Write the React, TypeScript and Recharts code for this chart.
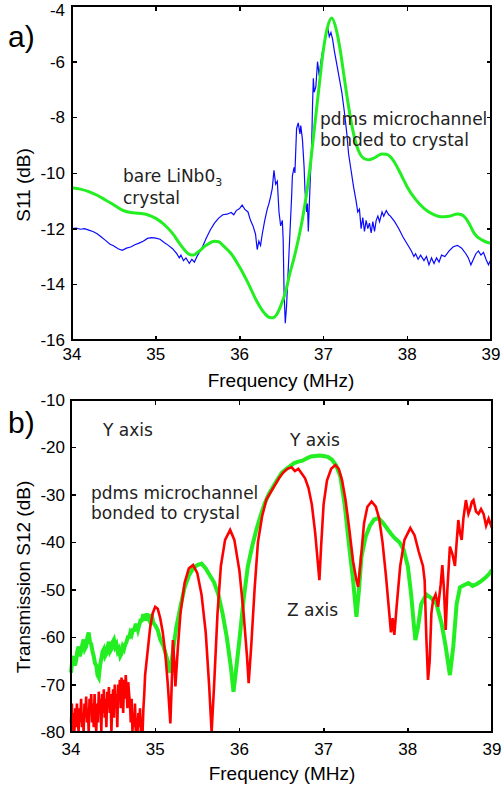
import React from "react";
import { LineChart, Line, XAxis, YAxis } from "recharts";

const AXIS_FONT = "'Liberation Sans', Arial, Helvetica, sans-serif";
const NOTE_FONT = "'DejaVu Sans', sans-serif";

const freqTicks = [34, 35, 36, 37, 38, 39];
const s11Ticks = [-16, -14, -12, -10, -8, -6, -4];
const s12Ticks = [-80, -70, -60, -50, -40, -30, -20, -10];

// panel a: bare crystal (blue), pdms bonded (green)
const bareS11: [number, number][] = [
  [34.0, -12.0], [34.05, -11.98], [34.1, -12.02], [34.15, -12.0], [34.2, -12.05], [34.25, -12.1],
  [34.3, -12.18], [34.35, -12.3], [34.4, -12.42], [34.45, -12.55], [34.5, -12.62], [34.55, -12.72],
  [34.6, -12.78], [34.65, -12.7], [34.7, -12.66], [34.75, -12.58], [34.8, -12.52], [34.85, -12.45],
  [34.9, -12.35], [34.95, -12.32], [35.0, -12.34], [35.05, -12.38], [35.1, -12.5], [35.15, -12.6],
  [35.2, -12.72], [35.25, -12.9], [35.28, -13.05], [35.3, -12.95], [35.33, -13.15], [35.36, -13.05],
  [35.4, -13.25], [35.43, -13.1], [35.46, -13.2], [35.5, -12.95], [35.55, -12.7], [35.6, -12.35],
  [35.65, -12.05], [35.7, -11.8], [35.75, -11.62], [35.8, -11.5], [35.85, -11.48], [35.9, -11.42],
  [35.93, -11.5], [35.96, -11.35], [36.0, -11.28], [36.03, -11.15], [36.06, -11.3], [36.1, -11.4],
  [36.13, -11.7], [36.16, -11.9], [36.19, -12.2], [36.21, -12.75], [36.23, -12.45], [36.25, -12.6],
  [36.27, -12.2], [36.3, -11.7], [36.33, -11.3], [36.35, -11.1], [36.37, -10.85], [36.39, -10.55],
  [36.41, -9.9], [36.43, -10.4], [36.45, -10.3], [36.47, -11.4], [36.49, -11.9], [36.51, -11.7],
  [36.52, -12.4], [36.53, -14.2], [36.545, -15.4], [36.56, -14.8], [36.58, -13.5], [36.6, -12.2],
  [36.62, -10.9], [36.63, -10.1], [36.65, -9.8], [36.66, -10.0], [36.67, -9.2], [36.68, -8.4],
  [36.7, -8.2], [36.72, -8.6], [36.73, -8.3], [36.75, -8.8], [36.77, -9.8], [36.78, -10.6],
  [36.8, -11.4], [36.81, -11.1], [36.82, -12.1], [36.84, -10.5], [36.86, -9.0], [36.87, -7.6],
  [36.88, -6.6], [36.89, -7.1], [36.91, -6.9], [36.93, -6.0], [36.95, -6.5], [36.97, -6.0],
  [36.99, -5.6], [37.01, -5.4], [37.03, -5.0], [37.05, -4.75], [37.07, -5.1], [37.09, -4.95],
  [37.11, -5.2], [37.13, -5.6], [37.16, -6.1], [37.19, -6.6], [37.22, -7.1], [37.25, -7.8],
  [37.28, -8.6], [37.3, -9.3], [37.33, -9.9], [37.36, -10.5], [37.39, -11.0], [37.41, -11.4],
  [37.43, -11.3], [37.45, -12.0], [37.47, -11.6], [37.49, -12.1], [37.51, -11.7], [37.53, -12.0],
  [37.55, -11.8], [37.57, -12.15], [37.59, -11.75], [37.61, -12.1], [37.63, -11.7], [37.65, -11.55],
  [37.67, -11.75], [37.7, -11.4], [37.72, -11.55], [37.75, -11.35], [37.78, -11.5], [37.8, -11.55],
  [37.85, -11.75], [37.9, -12.0], [37.95, -12.3], [38.0, -12.55], [38.05, -12.8], [38.08, -13.0],
  [38.1, -12.9], [38.13, -13.1], [38.16, -12.95], [38.2, -13.15], [38.23, -13.0], [38.26, -13.3],
  [38.29, -13.05], [38.32, -13.25], [38.35, -13.05], [38.38, -13.2], [38.41, -12.95], [38.45, -13.0],
  [38.5, -12.8], [38.55, -12.65], [38.6, -12.6], [38.65, -12.7], [38.7, -12.9], [38.73, -13.05],
  [38.76, -13.3], [38.79, -13.1], [38.82, -12.9], [38.85, -12.8], [38.88, -12.95], [38.91, -12.85],
  [38.94, -13.1], [38.97, -13.3], [39.0, -13.1],
];

const pdmsS11: [number, number][] = [
  [34.0, -10.53], [34.1, -10.58], [34.2, -10.67], [34.3, -10.8], [34.4, -10.97], [34.5, -11.15],
  [34.6, -11.33], [34.7, -11.42], [34.8, -11.45], [34.9, -11.5], [35.0, -11.63], [35.1, -11.85],
  [35.2, -12.17], [35.3, -12.6], [35.4, -12.92], [35.45, -12.95], [35.5, -12.85], [35.6, -12.6],
  [35.7, -12.45], [35.75, -12.47], [35.8, -12.6], [35.9, -12.9], [36.0, -13.38], [36.1, -13.95],
  [36.2, -14.58], [36.3, -15.05], [36.35, -15.18], [36.4, -15.2], [36.45, -15.05], [36.5, -14.7],
  [36.55, -14.25], [36.6, -13.6], [36.65, -13.05], [36.7, -12.4], [36.75, -11.65], [36.8, -10.73],
  [36.85, -9.55], [36.9, -8.2], [36.95, -6.85], [37.0, -5.57], [37.05, -4.75], [37.1, -4.43],
  [37.15, -4.8], [37.2, -5.57], [37.25, -6.6], [37.3, -7.6], [37.35, -8.45], [37.4, -9.05],
  [37.45, -9.38], [37.5, -9.5], [37.55, -9.52], [37.6, -9.47], [37.65, -9.38], [37.7, -9.32],
  [37.75, -9.33], [37.8, -9.42], [37.85, -9.62], [37.9, -9.9], [37.95, -10.2], [38.0, -10.5],
  [38.1, -10.95], [38.2, -11.27], [38.3, -11.47], [38.4, -11.57], [38.5, -11.55], [38.6, -11.47],
  [38.65, -11.5], [38.7, -11.63], [38.75, -11.88], [38.8, -12.17], [38.9, -12.42], [39.0, -12.53],
];

// panel b: Y axis (green), Z axis (red); red floor is where the plot clips at -80
const yAxisS12: [number, number][] = [
  [34.0, -67.5], [34.015, -65.0], [34.03, -64.0], [34.045, -66.0], [34.06, -65.0], [34.075, -63.0],
  [34.09, -62.0], [34.105, -64.0], [34.12, -63.0], [34.135, -61.5], [34.15, -60.5], [34.165, -62.5],
  [34.18, -62.0], [34.195, -60.0], [34.21, -59.0], [34.225, -61.0], [34.24, -61.5], [34.255, -63.0],
  [34.27, -64.0], [34.285, -65.5], [34.3, -66.0], [34.315, -68.0], [34.33, -68.5], [34.345, -66.0],
  [34.36, -64.5], [34.375, -63.0], [34.39, -62.5], [34.405, -64.0], [34.42, -63.5], [34.435, -62.0],
  [34.45, -61.0], [34.465, -63.0], [34.48, -62.5], [34.495, -61.0], [34.51, -60.5], [34.525, -62.0],
  [34.54, -61.5], [34.555, -63.0], [34.57, -62.5], [34.585, -64.0], [34.6, -63.5], [34.615, -62.0],
  [34.63, -62.5], [34.645, -61.5], [34.66, -61.0], [34.675, -60.0], [34.69, -60.0], [34.705, -59.0],
  [34.72, -59.5], [34.735, -58.5], [34.75, -58.5], [34.765, -57.5], [34.78, -57.5], [34.795, -58.5],
  [34.81, -57.5], [34.825, -56.5], [34.84, -56.5], [34.855, -55.5], [34.87, -55.5], [34.885, -56.5],
  [34.9, -55.0], [34.915, -56.0], [34.93, -56.5], [34.945, -55.5], [34.96, -55.5], [34.98, -57.0],
  [35.0, -57.5], [35.03, -58.5], [35.06, -60.5],
  [35.1, -62.0], [35.14, -64.5], [35.18, -67.5], [35.21, -63.0], [35.25, -58.0], [35.3, -53.5],
  [35.35, -49.5], [35.4, -47.0], [35.45, -45.5], [35.5, -44.8], [35.55, -44.5], [35.6, -45.5],
  [35.65, -47.0], [35.7, -48.5], [35.75, -51.0], [35.8, -55.0], [35.85, -60.0], [35.9, -66.5],
  [35.93, -71.5], [35.96, -67.0], [36.0, -60.6], [36.05, -52.0], [36.1, -45.1], [36.15, -41.0],
  [36.2, -37.4], [36.25, -34.5], [36.3, -31.8], [36.35, -29.8], [36.4, -28.3], [36.45, -26.8],
  [36.5, -25.4], [36.55, -24.6], [36.6, -24.0], [36.65, -23.3], [36.7, -23.0], [36.75, -22.8],
  [36.8, -22.3], [36.85, -21.9], [36.9, -21.8], [36.95, -21.7], [37.0, -21.8], [37.05, -22.0],
  [37.1, -22.6], [37.15, -23.8], [37.2, -26.2], [37.25, -32.0], [37.3, -40.2], [37.35, -48.0],
  [37.39, -55.7], [37.42, -50.0], [37.45, -43.0], [37.5, -38.8], [37.55, -36.5], [37.6, -35.2],
  [37.65, -34.9], [37.7, -35.8], [37.75, -37.0], [37.8, -38.2], [37.85, -39.2], [37.9, -40.0],
  [37.95, -41.5], [38.0, -45.0], [38.04, -51.0], [38.07, -57.0], [38.09, -60.6], [38.12, -58.0],
  [38.16, -53.0], [38.22, -51.0], [38.28, -51.8], [38.34, -53.0], [38.4, -57.0], [38.45, -62.0],
  [38.5, -68.0], [38.54, -62.0], [38.58, -53.0], [38.62, -49.5], [38.67, -49.0], [38.72, -48.6],
  [38.77, -49.2], [38.82, -48.8], [38.87, -48.2], [38.92, -47.5], [38.96, -46.8], [39.0, -45.8],
];

const zAxisS12: [number, number][] = [
  [34.0, -78], [34.01, -74], [34.02, -80], [34.03, -76], [34.04, -80], [34.05, -75], [34.06, -79],
  [34.07, -74], [34.08, -77], [34.09, -80], [34.1, -75], [34.11, -78], [34.12, -73], [34.13, -79],
  [34.14, -76], [34.15, -80], [34.16, -74], [34.17, -77], [34.18, -72.5], [34.19, -78], [34.2, -75],
  [34.21, -80], [34.22, -73], [34.23, -76], [34.24, -72], [34.25, -78], [34.26, -74], [34.27, -79],
  [34.28, -72], [34.29, -77], [34.3, -80], [34.31, -74], [34.32, -78], [34.33, -71.5], [34.34, -75],
  [34.35, -73], [34.36, -80], [34.37, -72], [34.38, -76], [34.39, -71], [34.4, -77], [34.41, -73],
  [34.42, -79], [34.43, -71.5], [34.44, -75], [34.45, -70.5], [34.46, -76], [34.47, -72], [34.48, -80],
  [34.49, -74], [34.5, -71], [34.51, -77], [34.52, -70], [34.53, -74], [34.54, -72], [34.55, -79],
  [34.56, -70], [34.57, -73], [34.58, -69], [34.59, -75], [34.6, -68.5], [34.61, -72], [34.62, -76],
  [34.63, -69], [34.64, -73], [34.65, -68], [34.66, -71], [34.67, -75], [34.68, -69.5], [34.69, -72],
  [34.7, -74], [34.71, -78], [34.72, -73], [34.73, -80], [34.74, -76], [34.75, -79], [34.76, -74],
  [34.77, -80], [34.78, -77], [34.79, -80], [34.8, -76], [34.81, -79], [34.82, -75], [34.83, -80],
  [34.84, -77], [34.85, -80], [34.86, -75], [34.87, -72], [34.88, -68], [34.91, -63.0], [34.94, -58.0],
  [34.97, -55.0], [35.0, -53.6], [35.03, -54.0], [35.06, -56.0], [35.09, -59.0], [35.12, -63.5],
  [35.15, -70.0], [35.18, -78.2], [35.2, -68.0], [35.21, -60.6], [35.23, -66.0], [35.24, -70.4],
  [35.27, -62.0], [35.3, -55.0], [35.35, -48.5], [35.4, -45.5], [35.45, -44.8], [35.5, -46.5],
  [35.55, -51.0], [35.6, -59.0], [35.64, -70.0], [35.67, -80.0], [35.7, -70.0], [35.74, -55.0],
  [35.78, -45.0], [35.83, -39.5], [35.89, -37.4], [35.94, -39.5], [36.0, -46.0], [36.05, -55.0],
  [36.09, -64.0], [36.11, -69.7], [36.14, -62.0], [36.18, -50.0], [36.22, -40.0], [36.27, -34.5],
  [36.32, -31.0], [36.37, -29.5], [36.42, -28.0], [36.47, -26.5], [36.52, -25.3], [36.57, -24.5],
  [36.62, -24.2], [36.66, -25.0], [36.7, -24.5], [36.74, -25.5], [36.78, -26.5], [36.82, -28.5],
  [36.86, -32.0], [36.9, -38.0], [36.93, -44.0], [36.95, -48.0], [36.97, -41.0], [37.0, -32.0],
  [37.04, -27.0], [37.09, -24.5], [37.14, -23.7], [37.18, -24.5], [37.22, -27.0], [37.26, -31.0],
  [37.3, -36.5], [37.35, -44.0], [37.39, -48.0], [37.41, -49.4], [37.44, -44.0], [37.48, -36.0],
  [37.52, -32.5], [37.57, -31.4], [37.62, -32.5], [37.66, -35.0], [37.7, -40.0], [37.74, -47.0],
  [37.78, -55.0], [37.8, -59.0], [37.82, -56.0], [37.84, -59.5], [37.87, -53.0], [37.91, -45.0],
  [37.96, -39.5], [38.03, -37.0], [38.08, -38.5], [38.13, -42.0], [38.18, -45.0], [38.2, -48.0],
  [38.22, -60.0], [38.24, -69.0], [38.26, -65.0], [38.28, -55.0], [38.3, -52.2], [38.33, -51.0],
  [38.36, -53.6], [38.39, -49.0], [38.41, -44.8], [38.43, -50.0], [38.45, -58.5], [38.47, -50.0],
  [38.5, -40.9], [38.53, -42.5], [38.56, -45.0], [38.58, -40.0], [38.6, -35.3], [38.62, -38.0],
  [38.64, -39.5], [38.66, -35.0], [38.69, -31.1], [38.72, -34.0], [38.74, -33.0], [38.76, -31.5],
  [38.78, -31.1], [38.81, -33.5], [38.84, -34.0], [38.87, -33.0], [38.9, -34.0], [38.93, -36.5],
  [38.96, -35.0], [39.0, -37.0],
];

const rows = (pts: [number, number][]) => pts.map(([f, v]) => ({ f, v }));

// plot boxes (page pixels)
const boxA = { left: 72, right: 491, top: 6, bottom: 340 };
const boxB = { left: 71, right: 492, top: 400, bottom: 732 };
const topB = 390;

const tickStyle = { fill: "#000", fontSize: 17, fontFamily: AXIS_FONT };

// frame drawn as html boxes: outline plus inward ticks on all four sides
function FrameBox({ box, yTicks, yDomain }: { box: typeof boxA; yTicks: number[]; yDomain: [number, number] }) {
  const w = box.right - box.left;
  const h = box.bottom - box.top;
  const sx = (f: number) => ((f - 34) / 5) * w;
  const sy = (v: number) => h - ((v - yDomain[0]) / (yDomain[1] - yDomain[0])) * h;
  const mark = (left: number, top: number, mw: number, mh: number, key: string) => (
    <div key={key} style={{ position: "absolute", left, top, width: mw, height: mh, background: "#000" }} />
  );
  return (
    <div style={{ position: "absolute", left: box.left - 1, top: box.top - 1, width: w + 2, height: h + 2,
      boxSizing: "border-box", border: "2px solid #000", pointerEvents: "none" }}>
      {freqTicks.map((f) => mark(sx(f) - 1.5, h - 5, 1.5, 4, "xb" + f))}
      {freqTicks.map((f) => mark(sx(f) - 1.5, 0, 1.5, 4, "xt" + f))}
      {yTicks.map((v) => mark(0, sy(v) - 1.5, 4, 1.5, "yl" + v))}
      {yTicks.map((v) => mark(w - 5, sy(v) - 1.5, 4, 1.5, "yr" + v))}
    </div>
  );
}

export default function App() {
  return (
    <div style={{ position: "absolute", left: 0, top: 0, width: 503, height: 789, background: "#fff" }}>
      <div style={{ position: "absolute", left: 0, top: 0 }}>
        <LineChart width={503} height={390}
          margin={{ top: boxA.top, right: 503 - boxA.right, bottom: 0, left: 0 }}>
          <XAxis dataKey="f" type="number" domain={[34, 39]} ticks={freqTicks} stroke="#000"
            tick={tickStyle} tickLine={false} tickSize={0} tickMargin={8} height={390 - boxA.bottom} />
          <YAxis type="number" domain={[-16, -4]} ticks={s11Ticks} width={boxA.left} stroke="#000"
            tick={tickStyle} tickLine={false} tickSize={0} tickMargin={7} />
          <Line data={rows(bareS11)} dataKey="v" stroke="#0a0aff" strokeWidth={1.2} dot={false}
            type="linear" isAnimationActive={false} />
          <Line data={rows(pdmsS11)} dataKey="v" stroke="#22ee22" strokeWidth={3} dot={false}
            type="monotone" isAnimationActive={false} />
        </LineChart>
      </div>
      <div style={{ position: "absolute", left: 0, top: topB }}>
        <LineChart width={503} height={399}
          margin={{ top: boxB.top - topB, right: 503 - boxB.right, bottom: 0, left: 0 }}>
          <XAxis dataKey="f" type="number" domain={[34, 39]} ticks={freqTicks} stroke="#000"
            tick={tickStyle} tickLine={false} tickSize={0} tickMargin={11} height={789 - boxB.bottom} />
          <YAxis type="number" domain={[-80, -10]} ticks={s12Ticks} width={boxB.left} stroke="#000"
            tick={tickStyle} tickLine={false} tickSize={0} tickMargin={6} />
          <Line data={rows(yAxisS12)} dataKey="v" stroke="#22ee22" strokeWidth={4} dot={false}
            type="linear" isAnimationActive={false} />
          <Line data={rows(zAxisS12)} dataKey="v" stroke="#ff0000" strokeWidth={2.6} dot={false}
            type="linear" isAnimationActive={false} />
        </LineChart>
      </div>
      <FrameBox box={boxA} yTicks={s11Ticks} yDomain={[-16, -4]} />
      <FrameBox box={boxB} yTicks={s12Ticks} yDomain={[-80, -10]} />
      <svg width={503} height={789} style={{ position: "absolute", left: 0, top: 0, pointerEvents: "none" }}>
        <text x={8} y={47} fontSize={30} fontFamily={AXIS_FONT} fill="#000">a)</text>
        <text x={8} y={433} fontSize={30} fontFamily={AXIS_FONT} fill="#000">b)</text>
        <text x={281} y={387} fontSize={19} fontFamily={AXIS_FONT} fill="#000" textAnchor="middle">Frequency (MHz)</text>
        <text x={282} y={780} fontSize={19} fontFamily={AXIS_FONT} fill="#000" textAnchor="middle">Frequency (MHz)</text>
        <text x={30} y={185} fontSize={19} fontFamily={AXIS_FONT} fill="#000" textAnchor="middle"
          transform="rotate(-90 30 185)">S11 (dB)</text>
        <text x={30} y={577} fontSize={19} fontFamily={AXIS_FONT} fill="#000" textAnchor="middle"
          transform="rotate(-90 30 577)">Transmission S12 (dB)</text>
        <g fontFamily={NOTE_FONT} fontSize={17} fill="#222">
          <text x={123} y={182}>bare LiNb0<tspan fontSize={11} dy={4}>3</tspan></text>
          <text x={123} y={204}>crystal</text>
          <text x={320} y={125}>pdms microchannel</text>
          <text x={320} y={146}>bonded to crystal</text>
          <text x={103} y={436}>Y axis</text>
          <text x={290} y={446}>Y axis</text>
          <text x={91} y={499}>pdms microchannel</text>
          <text x={91} y={519}>bonded to crystal</text>
          <text x={287} y={616}>Z axis</text>
        </g>
      </svg>
    </div>
  );
}
